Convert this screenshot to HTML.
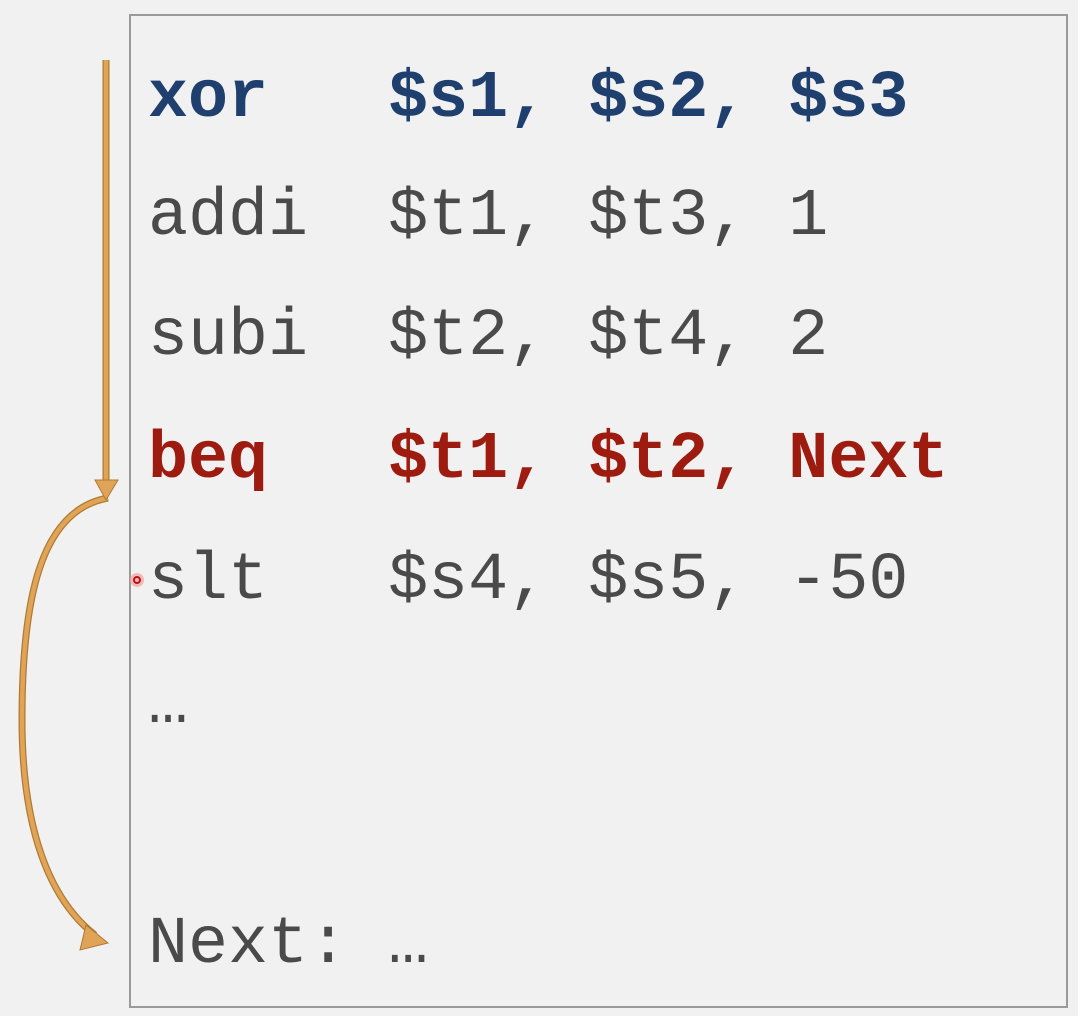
<!DOCTYPE html>
<html><head><style>
html,body{margin:0;padding:0;background:#f1f1f1;}
body{width:1078px;height:1016px;position:relative;overflow:hidden;}
.box{position:absolute;left:129px;top:14px;width:939px;height:994px;border:2px solid #9a9a9a;box-sizing:border-box;}
.t{position:absolute;left:148px;font-family:"Liberation Mono",monospace;font-size:66.7px;line-height:1;white-space:pre;color:#4a4a4a;}
.b{font-weight:bold;}
.blue{color:#1f3f6e;}
.red{color:#9e1b10;}
</style></head><body>
<div class="box"></div>
<div class="t b blue" style="top:66px">xor   $s1, $s2, $s3</div>
<div class="t" style="top:184px">addi  $t1, $t3, 1</div>
<div class="t" style="top:304px">subi  $t2, $t4, 2</div>
<div class="t b red" style="top:427px">beq   $t1, $t2, Next</div>
<div class="t" style="top:548px">slt   $s4, $s5, -50</div>
<div class="t" style="top:672px">…</div>
<div class="t" style="top:912px">Next: …</div>
<svg width="1078" height="1016" style="position:absolute;left:0;top:0">
<g stroke="#b07a30" stroke-width="7" fill="none">
<line x1="106" y1="60" x2="106" y2="484"/>
<path d="M108 498 C 40 510, 22 600, 22 720 C 22 830, 50 900, 95 935"/>
</g>
<g stroke="#e0a458" stroke-width="4.5" fill="none">
<line x1="106" y1="60" x2="106" y2="484"/>
<path d="M108 498 C 40 510, 22 600, 22 720 C 22 830, 50 900, 95 935"/>
</g>
<polygon points="95,480 118,480 106,500" fill="#e0a458" stroke="#b07a30" stroke-width="1"/>
<polygon points="86,925 108,943 80,950" fill="#e0a458" stroke="#b07a30" stroke-width="1"/>
<circle cx="137" cy="580" r="7" fill="#f4a0a0" opacity="0.7"/>
<circle cx="137" cy="580" r="3" fill="none" stroke="#c01010" stroke-width="2"/>
</svg>
</body></html>
